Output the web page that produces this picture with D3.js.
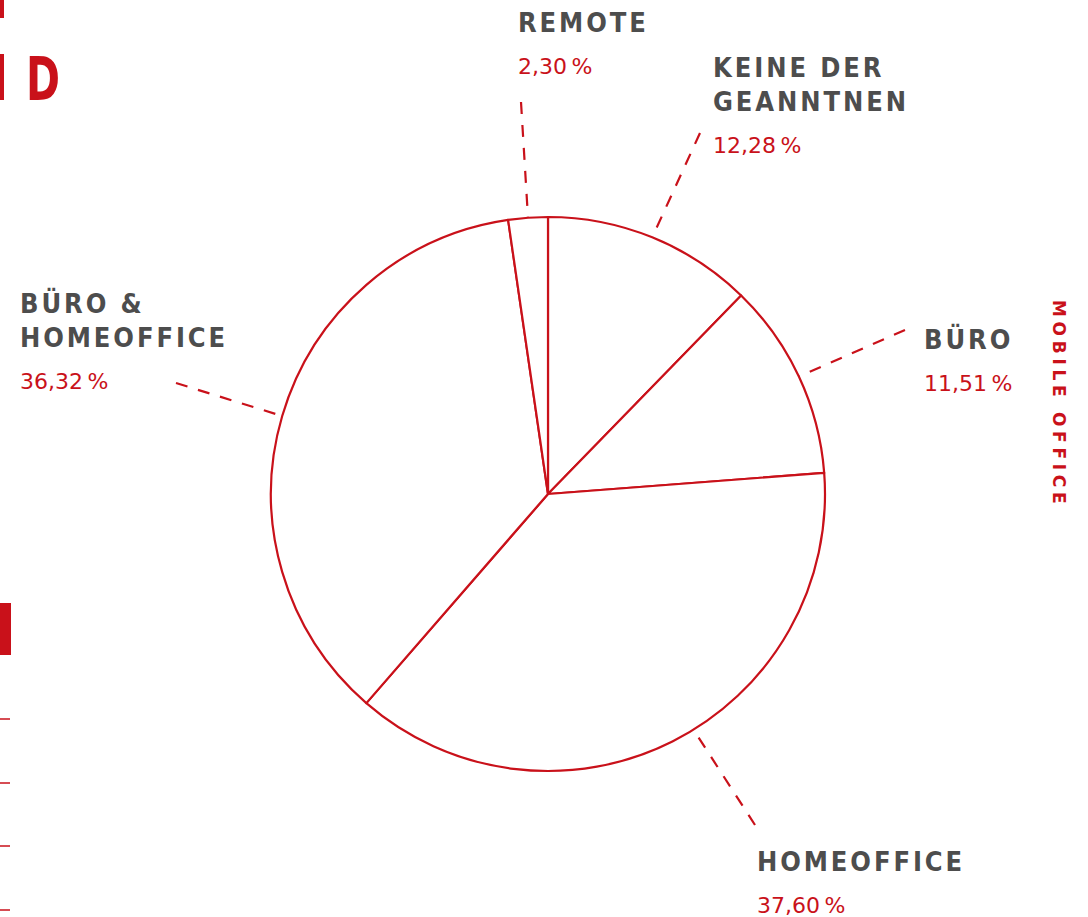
<!DOCTYPE html>
<html>
<head>
<meta charset="utf-8">
<script src="https://cdn.jsdelivr.net/npm/d3@7"></script>
<style>
  body { margin: 0; background: #fff; }
  svg { display: block; }
</style>
</head>
<body>
<div id="chart"></div>
<script>
// Data (shares in percent, clockwise from 12 o'clock)
const categories = ["KEINE DER|GEANNTNEN", "BÜRO", "HOMEOFFICE", "BÜRO &|HOMEOFFICE", "REMOTE"];
const shares = [12.28, 11.51, 37.60, 36.32, 2.30];

// label anchors and the outer end of each dashed leader
const labelPos = [[713, 77], [924, 349], [757, 871], [20, 313], [518, 32]];
const leaderEnd = [[700, 133], [905, 330], [755, 825], [176, 383], [521, 102]];
const leaderAngleShift = [0, 0, -5, 0, 0];

const red = "#c9111a", grey = "#4d4d4d";
const width = 1088, height = 917;
const cx = 548, cy = 494, r = 277;

const svg = d3.select("#chart")
    .append("svg")
    .attr("width", width)
    .attr("height", height);

// cut off bits of the page on the left
svg.append("rect").attr("x", 0).attr("y", 0).attr("width", 4).attr("height", 18).attr("fill", red);
svg.append("rect").attr("x", 0).attr("y", 54).attr("width", 4).attr("height", 46).attr("fill", red);
svg.append("text")
    .attr("x", 26).attr("y", 100)
    .attr("textLength", 34)
    .attr("lengthAdjust", "spacingAndGlyphs")
    .style("font-family", "'DejaVu Sans', sans-serif")
    .style("font-weight", "bold")
    .style("font-size", "61px")
    .attr("fill", red)
    .text("D");
svg.append("rect").attr("x", 0).attr("y", 603).attr("width", 11).attr("height", 52).attr("fill", red);
[719, 783, 846, 910].forEach(y => {
    svg.append("line").attr("x1", 0).attr("x2", 10).attr("y1", y).attr("y2", y)
        .attr("stroke", red).attr("stroke-width", 1.5);
});

// vertical tab text
svg.append("text")
    .attr("transform", "translate(1053, 300) rotate(90)")
    .style("font-family", "'DejaVu Sans', sans-serif")
    .style("font-weight", "bold")
    .style("font-size", "17px")
    .style("letter-spacing", "4.7px")
    .attr("fill", red)
    .text("MOBILE OFFICE");

// Pie
const pie = d3.pie().sort(null).value(d => d);
const arcs = pie(shares);
const arc = d3.arc().innerRadius(0).outerRadius(r);

const g = svg.append("g").attr("transform", `translate(${cx}, ${cy})`);
g.selectAll("path")
    .data(arcs)
    .join("path")
    .attr("d", arc)
    .attr("fill", "#fff")
    .attr("stroke", red)
    .attr("stroke-width", 2.2)
    .attr("stroke-linejoin", "round");

// dashed leaders
arcs.forEach((a, i) => {
    const ang = (a.startAngle + a.endAngle) / 2 + leaderAngleShift[i] * Math.PI / 180;
    const x0 = cx + r * Math.sin(ang), y0 = cy - r * Math.cos(ang);
    svg.append("line")
        .attr("x1", leaderEnd[i][0]).attr("y1", leaderEnd[i][1])
        .attr("x2", x0).attr("y2", y0)
        .attr("stroke", red)
        .attr("stroke-width", 2.2)
        .attr("stroke-dasharray", "12,11");
});

// labels
categories.forEach((c, i) => {
    const lines = c.split("|");
    const t = svg.append("text")
        .attr("x", labelPos[i][0]).attr("y", labelPos[i][1])
        .style("font-family", "'DejaVu Sans Condensed', sans-serif")
        .style("font-weight", "bold")
        .style("font-size", "27px")
        .style("letter-spacing", "2.9px")
        .attr("fill", grey);
    lines.forEach((l, j) => {
        t.append("tspan").attr("x", labelPos[i][0]).attr("dy", j ? 34 : 0).text(l);
    });
    svg.append("text")
        .attr("x", labelPos[i][0])
        .attr("y", labelPos[i][1] + 34 * (lines.length - 1) + 42)
        .style("font-family", "'DejaVu Sans', sans-serif")
        .style("font-size", "22px")
        .attr("fill", red)
        .text(shares[i].toFixed(2).replace(".", ",") + "\u2009%");
});
</script>
</body>
</html>
